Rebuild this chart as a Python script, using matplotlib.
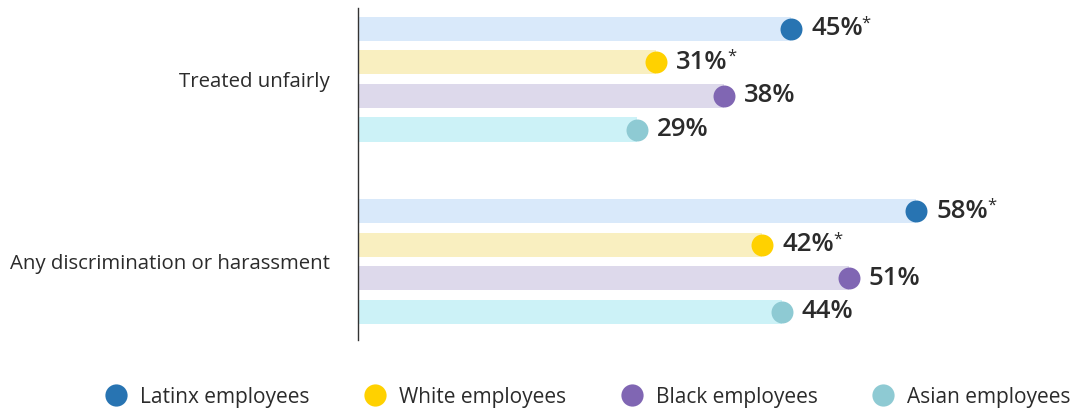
import matplotlib.pyplot as plt
from matplotlib.lines import Line2D

plt.rcParams['font.family'] = ['Open Sans', 'DejaVu Sans']

categories = ['Treated unfairly', 'Any discrimination or harassment']
groups = ['Latinx employees', 'White employees', 'Black employees', 'Asian employees']
values = {
    'Latinx employees': [45, 58],
    'White employees': [31, 42],
    'Black employees': [38, 51],
    'Asian employees': [29, 44],
}
significant = {
    'Latinx employees': [True, True],
    'White employees': [True, True],
    'Black employees': [False, False],
    'Asian employees': [False, False],
}
dot_colors = ['#2874B2', '#FFD100', '#8066B3', '#8ECAD3']
bar_colors = ['#D9E9FA', '#F9EFC0', '#DDD9EB', '#CCF2F7']

W, H = 1081, 412
fig = plt.figure(figsize=(W / 100, H / 100), dpi=100)
ax = fig.add_axes([358 / W, (H - 340) / H, (W - 358) / W, 332 / H])

group_gap = 5.43
text_color = '#2b2b2b'
pct_texts = []
for i, g in enumerate(groups):
    for j, cat in enumerate(categories):
        y = j * group_gap + (i - 1.5)
        v = values[g][j]
        ax.barh(y, v, height=0.72, color=bar_colors[i], zorder=1)
        ax.scatter(v, y, s=250, color=dot_colors[i], zorder=3, linewidths=0)
        t = ax.annotate(f'{v}%', (v, y), xytext=(20, 0), textcoords='offset pixels',
                        ha='left', va='center', fontsize=18.5, fontweight='semibold',
                        color=text_color)
        pct_texts.append((t, significant[g][j]))

ax.set_xlim(0, (W - 358) / 9.625)
ax.set_ylim(group_gap + 2.34, -2.12)
for s in ['top', 'right', 'bottom']:
    ax.spines[s].set_visible(False)
ax.spines['left'].set_color('#333333')
ax.spines['left'].set_linewidth(1)
ax.set_xticks([])
ax.set_yticks([j * group_gap for j in range(len(categories))])
ax.set_yticklabels(categories, fontsize=14.7, color=text_color)
ax.tick_params(axis='y', length=0, pad=20)

# superscript asterisks after significant values
fig.canvas.draw()
renderer = fig.canvas.get_renderer()
inv = fig.transFigure.inverted()
for t, sig in pct_texts:
    if sig:
        bb = t.get_window_extent(renderer)
        x, y = inv.transform((bb.x1 - 1, bb.y1 + 1))
        fig.text(x, y, '*', fontsize=12, color=text_color, ha='left', va='top')

handles = [Line2D([], [], marker='o', linestyle='none', markersize=16,
                  markerfacecolor=c, markeredgewidth=0) for c in dot_colors]
fig.legend(handles, groups, loc='center', bbox_to_anchor=(0.543, (H - 397) / H),
           ncol=4, frameon=False, fontsize=15, handletextpad=0.55,
           columnspacing=2.55, labelcolor=text_color, handlelength=1.2)

fig.savefig('out.png', dpi=100)
